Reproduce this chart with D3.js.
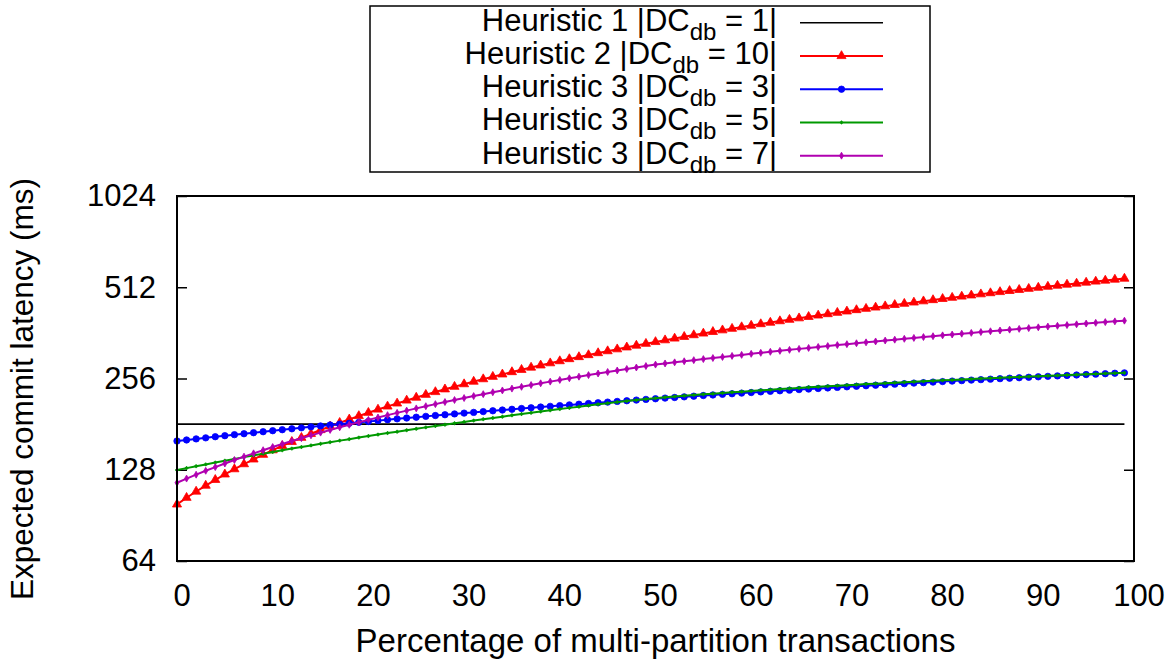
<!DOCTYPE html>
<html>
<head>
<meta charset="utf-8">
<script src="https://cdn.jsdelivr.net/npm/d3@7"></script>
<style>
  html, body { margin: 0; padding: 0; background: #fff; }
  svg { display: block; }
  text { font-family: "Liberation Sans", Arial, Helvetica, sans-serif; fill: #000; }
</style>
</head>
<body>
<svg id="chart" width="1173" height="665"></svg>
<script>
// Percentage of multi-partition transactions (0..99)
const pct = d3.range(0, 100);

// Expected commit latency (ms) per heuristic / DC_db size
const heuristic1_dc1 = [181,181,181,181,181,181,181,181,181,181,181,181,181,181,181,181,181,181,181,181,
181,181,181,181,181,181,181,181,181,181,181,181,181,181,181,181,181,181,181,181,
181,181,181,181,181,181,181,181,181,181,181,181,181,181,181,181,181,181,181,181,
181,181,181,181,181,181,181,181,181,181,181,181,181,181,181,181,181,181,181,181,
181,181,181,181,181,181,181,181,181,181,181,181,181,181,181,181,181,181,181,181];

const heuristic2_dc10 = [98.4,103.5,108.5,113.5,118.6,123.6,128.6,133.6,138.5,143.5,
148.5,153.4,158.3,163.3,168.2,173.1,178.0,182.9,187.7,192.6,
197.4,202.3,207.1,211.9,216.7,221.5,226.3,231.1,235.9,240.6,
245.3,250.1,254.8,259.5,264.2,268.9,273.6,278.3,282.9,287.6,
292.2,296.8,301.4,306.0,310.6,315.2,319.8,324.4,328.9,333.5,
338.0,342.5,347.0,351.5,356.0,360.5,364.9,369.4,373.8,378.3,
382.7,387.1,391.5,395.9,400.3,404.7,409.0,413.4,417.7,422.0,
426.3,430.7,435.0,439.2,443.5,447.8,452.0,456.3,460.5,464.7,
468.9,473.1,477.3,481.5,485.7,489.8,494.0,498.1,502.2,506.3,
510.5,514.5,518.6,522.7,526.8,530.8,534.9,538.9,542.9,546.9];

const heuristic3_dc3 = [159.2,160.5,161.8,163.1,164.5,165.8,167.1,168.3,169.6,170.9,
172.2,173.5,174.7,176.0,177.3,178.5,179.8,181.0,182.2,183.5,
184.7,185.9,187.2,188.4,189.6,190.8,192.0,193.2,194.4,195.6,
196.8,197.9,199.1,200.3,201.5,202.6,203.8,204.9,206.1,207.2,
208.4,209.5,210.6,211.7,212.9,214.0,215.1,216.2,217.3,218.4,
219.5,220.6,221.6,222.7,223.8,224.9,225.9,227.0,228.0,229.1,
230.1,231.2,232.2,233.2,234.3,235.3,236.3,237.3,238.3,239.3,
240.3,241.3,242.3,243.3,244.3,245.2,246.2,247.2,248.1,249.1,
250.1,251.0,251.9,252.9,253.8,254.7,255.7,256.6,257.5,258.4,
259.3,260.2,261.1,262.0,262.9,263.8,264.6,265.5,266.4,267.2];

const heuristic3_dc5 = [127.7,129.6,131.5,133.3,135.2,137.1,139.0,140.9,142.7,144.6,
146.5,148.4,150.3,152.1,154.0,155.9,157.8,159.7,161.5,163.4,
165.3,167.2,169.1,170.9,172.8,174.7,176.6,178.5,180.3,182.2,
184.1,186.0,187.9,189.7,191.6,193.5,195.4,197.3,199.1,201.0,
202.9,204.8,206.7,208.5,210.4,212.2,214.0,215.7,217.3,218.9,
220.4,221.9,223.3,224.6,225.8,227.0,228.2,229.4,230.6,231.7,
232.9,234.0,235.1,236.2,237.3,238.3,239.4,240.4,241.4,242.4,
243.4,244.3,245.3,246.2,247.1,248.0,248.9,249.8,250.7,251.5,
252.4,253.3,254.1,254.9,255.8,256.6,257.4,258.2,259.0,259.8,
260.6,261.3,262.1,262.9,263.6,264.4,265.1,265.8,266.5,267.2];

const heuristic3_dc7 = [116.0,119.7,123.3,127.0,130.6,134.2,137.8,141.4,145.0,148.5,
152.1,155.6,159.2,162.7,166.2,169.7,173.2,176.7,180.1,183.6,
187.0,190.4,193.8,197.2,200.6,204.0,207.4,210.7,214.1,217.4,
220.7,224.0,227.3,230.6,233.8,237.1,240.3,243.6,246.8,250.0,
253.2,256.4,259.6,262.7,265.9,269.0,272.1,275.2,278.3,281.4,
284.5,287.0,289.4,291.8,294.3,296.7,299.1,301.5,303.9,306.3,
308.7,311.1,313.5,315.8,318.2,320.6,322.9,325.3,327.6,330.0,
332.3,334.6,336.9,339.2,341.5,343.8,346.1,348.4,350.7,353.0,
355.3,357.5,359.8,362.0,364.3,366.5,368.7,371.0,373.2,375.4,
377.6,379.8,382.0,384.2,386.4,388.6,390.7,392.9,395.1,397.2];

const xTicks = [0, 10, 20, 30, 40, 50, 60, 70, 80, 90, 100];
const yTicks = [64, 128, 256, 512, 1024];

const legendLabels = [
  { name: "Heuristic 1 |DC", sub: "db", tail: " = 1|" },
  { name: "Heuristic 2 |DC", sub: "db", tail: " = 10|" },
  { name: "Heuristic 3 |DC", sub: "db", tail: " = 3|" },
  { name: "Heuristic 3 |DC", sub: "db", tail: " = 5|" },
  { name: "Heuristic 3 |DC", sub: "db", tail: " = 7|" }
];

const series = [
  { values: heuristic1_dc1, color: "#000000", marker: null },
  { values: heuristic2_dc10, color: "#ff0000", marker: "triangle" },
  { values: heuristic3_dc3, color: "#0000ff", marker: "circle" },
  { values: heuristic3_dc5, color: "#009900", marker: "dot" },
  { values: heuristic3_dc7, color: "#b000b0", marker: "diamond" }
];

const svg = d3.select("#chart");
const plotLeft = 177, plotRight = 1134, plotTop = 196, plotBottom = 561;

const x = d3.scaleLinear().domain([0, 100]).range([plotLeft, plotRight]);
const y = d3.scaleLog().base(2).domain([64, 1024]).range([plotBottom, plotTop]);

const FONT = 31;
const FAMILY = '"Liberation Sans", Arial, sans-serif';

// Y axis (left, labelled) and mirrored ticks on the right
const yAxisL = svg.append("g")
  .attr("transform", `translate(${plotLeft},0)`)
  .call(d3.axisLeft(y).tickValues(yTicks).tickFormat(d3.format("d"))
    .tickSizeInner(-10).tickSizeOuter(0).tickPadding(21));
yAxisL.select(".domain").remove();
yAxisL.selectAll("line").attr("stroke", "#000").attr("stroke-width", 1.5);
yAxisL.selectAll("text").attr("font-size", FONT).attr("fill", "#000")
  .style("font-family", FAMILY);

const yAxisR = svg.append("g")
  .attr("transform", `translate(${plotRight},0)`)
  .call(d3.axisRight(y).tickValues(yTicks).tickFormat("")
    .tickSizeInner(-10).tickSizeOuter(0));
yAxisR.select(".domain").remove();
yAxisR.selectAll("line").attr("stroke", "#000").attr("stroke-width", 1.5);

// X axis labels (no tick marks)
const xAxis = svg.append("g")
  .attr("transform", `translate(0,${plotBottom})`)
  .call(d3.axisBottom(x).tickValues(xTicks).tickFormat(d3.format("d"))
    .tickSize(0).tickPadding(23));
xAxis.select(".domain").remove();
xAxis.selectAll("line").remove();
xAxis.selectAll("text").attr("font-size", FONT).attr("fill", "#000").attr("dx", 4.5)
  .style("font-family", FAMILY);

// Series lines and markers
const line = d3.line().x((d, i) => x(pct[i])).y(d => y(d));
const markerPath = {
  triangle: d3.symbol().type(d3.symbolTriangle).size(36)(),
  circle: d3.symbol().type(d3.symbolCircle).size(32)(),
  diamond: d3.symbol().type(d3.symbolDiamond).size(14)(),
  dot: d3.symbol().type(d3.symbolCross).size(5)()
};

const plot = svg.append("g");
series.forEach(s => {
  plot.append("path")
    .datum(s.values)
    .attr("fill", "none")
    .attr("stroke", s.color)
    .attr("stroke-width", s.marker ? 2 : 1.6)
    .attr("d", line);
  if (s.marker) {
    plot.append("g").selectAll("path")
      .data(s.values)
      .join("path")
      .attr("d", markerPath[s.marker])
      .attr("transform", (d, i) => `translate(${x(pct[i])},${y(d)})`)
      .attr("fill", s.color)
      .attr("stroke", s.color)
      .attr("stroke-width", 0.8);
  }
});

// Plot frame
svg.append("rect")
  .attr("x", plotLeft).attr("y", plotTop)
  .attr("width", plotRight - plotLeft).attr("height", plotBottom - plotTop)
  .attr("fill", "none").attr("stroke", "#000").attr("stroke-width", 2);

// Axis titles
svg.append("text")
  .attr("x", (plotLeft + plotRight) / 2).attr("y", 652)
  .attr("text-anchor", "middle").attr("font-size", 33)
  .text("Percentage of multi-partition transactions");

svg.append("text")
  .attr("transform", `translate(33,389) rotate(-90)`)
  .attr("text-anchor", "middle").attr("font-size", 31.5)
  .text("Expected commit latency (ms)");

// Legend
const legend = svg.append("g");
legend.append("rect")
  .attr("x", 370).attr("y", 6).attr("width", 560).attr("height", 166)
  .attr("fill", "#fff").attr("stroke", "#000").attr("stroke-width", 1.5);

const rowY = i => 22.7 + i * 33.25;
legendLabels.forEach((lab, i) => {
  const t = legend.append("text")
    .attr("x", 777).attr("y", rowY(i) + 8)
    .attr("text-anchor", "end").attr("font-size", FONT);
  t.append("tspan").text(lab.name);
  t.append("tspan").attr("dy", 9).attr("font-size", 24).text(lab.sub);
  t.append("tspan").attr("dy", -9).attr("font-size", FONT).text(lab.tail);

  const s = series[i];
  legend.append("line")
    .attr("x1", 800).attr("x2", 883).attr("y1", rowY(i)).attr("y2", rowY(i))
    .attr("stroke", s.color).attr("stroke-width", s.marker ? 2 : 1.6);
  if (s.marker) {
    legend.append("path")
      .attr("d", markerPath[s.marker])
      .attr("transform", `translate(841.5,${rowY(i)})`)
      .attr("fill", s.color).attr("stroke", s.color).attr("stroke-width", 0.8);
  }
});
</script>
</body>
</html>
